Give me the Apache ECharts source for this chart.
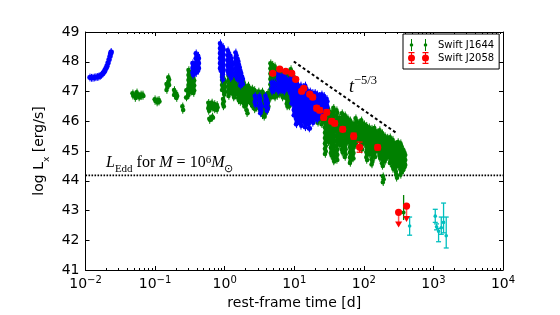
<!DOCTYPE html>
<html><head><meta charset="utf-8">
<script src="https://cdn.jsdelivr.net/npm/echarts@6/dist/echarts.min.js"></script>
<style>html,body{margin:0;padding:0;background:#fff}#c{width:560px;height:315px}</style>
</head><body><div id="c"></div>
<script>
// ---------------- data ----------------
const xTickValues = [0.01, 0.1, 1, 10, 100, 1000, 10000];
const xTickExponents = ['\u22122', '\u22121', '0', '1', '2', '3', '4'];
const yTickValues = [41, 42, 43, 44, 45, 46, 47, 48, 49];

// Swift J1644 (green): vertical streaks of points, time [d], lowest and highest log L
const j1644T  = [0.048,0.052,0.055,0.059,0.063,0.067,0.100,0.107,0.114,0.148,0.157,0.190,0.205,0.250,0.283,0.285,0.306,0.335,0.360,
  0.590,0.610,0.660,0.670,0.720,0.780,0.930,0.960,1.00,1.15,1.25,1.35,1.42,1.58,1.68,1.75,1.85,1.95,2.05,2.10,2.20,2.35,2.50,
  2.70,2.90,3.10,3.30,3.50,3.70,3.95,4.20,4.60,4.90,5.30,5.70,6.20,6.80,7.30,7.90,8.50,9.00,9.60,10.4,11.0,12.5,22.0,25.0,
  28,31,34,37,41,45,49,54,59,64,70,77,85,93,102,110,120,131,143,156,170,185,190,202,220,240,262,285,296,312,340,370,388];
const j1644Lo = [46.86,46.78,46.90,46.80,46.84,46.85,46.68,46.63,46.66,47.05,47.22,46.88,46.78,46.38,46.80,47.04,46.88,47.00,46.95,
  46.35,46.04,46.45,46.12,46.40,46.38,47.05,46.50,46.90,46.85,47.00,46.80,46.90,46.70,46.65,46.80,46.60,46.50,46.55,46.27,46.70,46.60,46.50,
  46.40,46.45,46.50,46.35,46.20,46.15,46.30,46.40,46.80,46.90,46.80,46.85,46.90,46.80,46.85,46.50,46.50,46.60,46.80,46.85,46.30,46.20,45.95,45.90,
  44.90,45.30,44.85,44.65,44.70,45.20,44.95,44.80,45.30,44.60,44.75,45.20,45.40,45.05,45.30,44.70,44.90,44.55,44.80,45.00,44.75,44.50,43.95,44.65,44.80,44.60,44.40,44.30,44.10,44.50,44.20,44.35,44.45];
const j1644Hi = [46.94,46.88,46.97,46.86,46.90,46.90,46.74,46.70,46.72,47.25,47.48,47.05,46.92,46.50,46.80,47.04,47.72,47.65,47.45,
  46.62,46.08,46.63,46.16,46.58,46.55,47.72,46.75,47.40,47.70,47.55,47.45,47.30,47.80,47.60,47.30,47.38,47.20,47.10,46.37,47.20,47.05,47.10,
  47.05,46.95,47.00,46.90,47.00,46.90,46.85,46.95,47.95,47.90,47.85,47.70,47.70,47.60,47.65,47.60,47.55,47.75,47.60,47.40,46.90,46.60,46.30,46.40,
  46.50,46.42,46.30,46.45,46.37,46.12,46.27,46.20,46.10,46.03,45.92,46.10,45.95,46.03,45.90,45.85,45.80,45.75,45.77,45.62,45.70,45.60,44.15,45.50,45.45,45.46,45.38,45.22,44.20,45.30,45.26,45.05,44.95];
// Swift J1644 late point with error bar
const j1644LateT = [373];
const j1644LateL = [42.93];
const j1644LateLo = [42.68];
const j1644LateHi = [43.52];

// Swift J1644 (blue)
const blueT  = [0.0116,0.0122,0.0128,0.0134,0.0141,0.0148,0.0155,0.0162,0.0170,0.0177,0.0184,0.0190,0.0197,0.0204,0.0211,0.0218,0.0225,0.0230,0.0234,
  0.350,0.390,0.420,0.870,0.930,0.950,1.12,1.22,1.28,1.45,1.55,1.62,1.70,1.80,2.75,3.20,3.30,3.90,4.10,4.80,5.20,5.90,6.50,7.20,7.90,8.60,
  9.30,10.0,10.8,11.5,12.5,13.5,14.5,15.8,16.5,17.0,18.5,20.0,21.5,23.0,25.0,27.0,29.5];
const blueLo = [47.47,47.46,47.46,47.47,47.48,47.49,47.50,47.52,47.56,47.60,47.65,47.71,47.78,47.86,47.96,48.07,48.18,48.27,48.33,
  47.55,47.62,47.70,47.70,47.40,47.64,47.60,47.45,47.55,47.50,47.40,47.45,47.20,47.25,46.55,46.40,46.27,46.50,46.35,47.00,47.05,47.00,47.05,47.00,47.10,46.95,
  46.60,46.20,45.90,46.00,45.85,46.00,45.80,45.90,45.76,46.00,45.95,46.10,46.05,46.15,46.20,46.30,46.40];
const blueHi = [47.47,47.46,47.46,47.47,47.48,47.49,47.50,47.52,47.56,47.60,47.65,47.71,47.78,47.86,47.96,48.07,48.18,48.27,48.33,
  47.95,48.28,48.20,48.62,48.00,48.50,48.38,48.20,48.00,48.31,48.10,47.90,47.70,47.50,46.85,46.85,46.60,46.85,46.70,47.30,47.30,47.60,47.50,47.55,47.40,47.40,
  47.50,47.45,47.30,47.20,47.20,47.15,47.20,47.00,45.76,47.00,46.95,46.95,46.90,46.85,46.90,46.85,46.75];

// late cyan points
const cyanT  = [455, 1063, 1109, 1186, 1297, 1399, 1528];
const cyanL  = [42.48, 42.81, 42.45, 42.30, 42.42, 42.60, 42.15];
const cyanLo = [42.17, 42.60, 42.35, 41.95, 42.20, 42.25, 41.74];
const cyanHi = [42.78, 43.04, 42.55, 42.40, 42.78, 43.25, 42.78];

// Swift J2058 (red)
const j2058T   = [4.91, 6.19, 7.55, 9.2, 10.5, 12.8, 13.7, 16.7, 18.4, 21.0, 23.2, 26.5, 29.3, 34.5, 38.1, 49.7, 71.4, 87, 158];
const j2058L   = [47.61, 47.75, 47.68, 47.61, 47.41, 47.01, 47.11, 46.91, 46.81, 46.44, 46.37, 46.13, 46.30, 46.00, 45.93, 45.73, 45.50, 45.13, 45.12];
const j2058Err = [0.05, 0.05, 0.05, 0.06, 0.06, 0.06, 0.06, 0.06, 0.07, 0.08, 0.08, 0.08, 0.08, 0.08, 0.08, 0.08, 0.10, 0.17, 0.08];
// Swift J2058 upper limits
const j2058LimT  = [316, 411];
const j2058LimL  = [42.94, 43.15];
const j2058LimTo = [42.51, 42.70];

// t^-5/3 guide and Eddington luminosity
const powerT = [9.84, 296];
const powerL = [48.01, 45.60];
const lEdd = 44.18;

// ---------------- chart ----------------
const minorX = [];
for (let k = -2; k <= 3; k++) for (let m = 2; m <= 9; m++) minorX.push(parseFloat((m * Math.pow(10, k)).toPrecision(3)));

const GREEN = '#008000', BLUE = '#0000ff', RED = '#ff0000', CYAN = '#00bfbf';

// a streak of overlapping error-bar points between lo and hi
function streak(color, r) {
  return function (params, api) {
    const t = api.value(0), lo = api.value(1), hi = api.value(2);
    const a = api.coord([t, hi]), b = api.coord([t, lo]);
    const x = a[0], len = b[1] - a[1];
    const ch = [{ type: 'line', shape: { x1: x, y1: a[1] - r - 1.5, x2: x, y2: b[1] + r + 1.5 }, style: { stroke: color, lineWidth: 1 } }];
    const n = Math.max(1, Math.round(len / 2.6));
    for (let k = 0; k <= n; k++) {
      const y = a[1] + (len * k) / n;
      ch.push({ type: 'circle', shape: { cx: x + ((k % 2) ? 0.4 : -0.4), cy: y, r: r }, style: { fill: color } });
    }
    return { type: 'group', children: ch };
  };
}
function errPoint(color, cap, r) {
  return function (params, api) {
    const t = api.value(0), L = api.value(1), lo = api.value(2), hi = api.value(3);
    const c = api.coord([t, L]), a = api.coord([t, hi]), b = api.coord([t, lo]);
    const ch = [
      { type: 'line', shape: { x1: c[0], y1: a[1], x2: c[0], y2: b[1] }, style: { stroke: color, lineWidth: 1.3 } },
      { type: 'circle', shape: { cx: c[0], cy: c[1], r: r }, style: { fill: color } }
    ];
    if (cap > 0) {
      ch.push({ type: 'line', shape: { x1: c[0] - cap, y1: a[1], x2: c[0] + cap, y2: a[1] }, style: { stroke: color, lineWidth: 1.3 } });
      ch.push({ type: 'line', shape: { x1: c[0] - cap, y1: b[1], x2: c[0] + cap, y2: b[1] }, style: { stroke: color, lineWidth: 1.3 } });
    }
    return { type: 'group', children: ch };
  };
}
function upperLimit(color) {
  return function (params, api) {
    const t = api.value(0), L = api.value(1), to = api.value(2);
    const c = api.coord([t, L]), b = api.coord([t, to]);
    return { type: 'group', children: [
      { type: 'line', shape: { x1: c[0], y1: c[1], x2: c[0], y2: b[1] - 3 }, style: { stroke: '#ff5555', lineWidth: 1.5 } },
      { type: 'polygon', shape: { points: [[c[0] - 3.5, b[1] - 3.5], [c[0] + 3.5, b[1] - 3.5], [c[0], b[1] + 2.5]] }, style: { fill: color } },
      { type: 'circle', shape: { cx: c[0], cy: c[1], r: 3.6 }, style: { fill: color } }
    ] };
  };
}

const greenIcon = 'path://M3 0H4V12H3Z M1.7 6A1.8 1.8 0 1 1 5.3 6A1.8 1.8 0 1 1 1.7 6Z M17 0H18V12H17Z M15.7 6A1.8 1.8 0 1 1 19.3 6A1.8 1.8 0 1 1 15.7 6Z';
const redIcon = 'path://M0.5 0H6.5V1.2H4V10.8H6.5V12H0.5V10.8H3V1.2H0.5Z M0 6A3.5 3.5 0 1 1 7 6A3.5 3.5 0 1 1 0 6Z M14.5 0H20.5V1.2H18V10.8H20.5V12H14.5V10.8H17V1.2H14.5Z M14 6A3.5 3.5 0 1 1 21 6A3.5 3.5 0 1 1 14 6Z';

const axisLineStyle = { show: true, lineStyle: { color: '#000', width: 1 } };
const xBase = { type: 'log', logBase: 10, min: 0.01, max: 10000, gridIndex: 0, splitLine: { show: false } };
const yBase = { type: 'value', min: 41, max: 49, interval: 1, gridIndex: 0, splitLine: { show: false } };

const option = {
  animation: false,
  backgroundColor: '#fff',
  textStyle: { fontFamily: 'DejaVu Sans', color: '#000' },
  grid: { left: 85.5, top: 32, right: 57, bottom: 45, containLabel: false },
  legend: {
    data: [{ name: 'Swift J1644', icon: greenIcon }, { name: 'Swift J2058', icon: redIcon }],
    orient: 'vertical', left: 403, top: 34, itemWidth: 21, itemHeight: 12, itemGap: 1,
    padding: [5, 5, 5, 5], borderColor: '#000', borderWidth: 1, borderRadius: 0, backgroundColor: '#fff',
    selectedMode: false,
    textStyle: { fontSize: 10, color: '#000', fontFamily: 'DejaVu Sans', padding: [0, 0, 0, 4] }
  },
  xAxis: [
    Object.assign({}, xBase, {
      position: 'bottom', axisLine: axisLineStyle,
      axisTick: { show: true, inside: true, length: 4, customValues: xTickValues, lineStyle: { color: '#000' } },
      axisLabel: {
        show: true, margin: 5, customValues: xTickValues,
        formatter: function (v) { const i = Math.round(Math.log10(v)) + 2; return '{b|10}{s|' + xTickExponents[i] + '}'; },
        rich: {
          b: { fontSize: 14, fontFamily: 'DejaVu Sans', color: '#000', lineHeight: 16, verticalAlign: 'bottom', padding: [5, 0, 0, 0] },
          s: { fontSize: 10, fontFamily: 'DejaVu Sans', color: '#000', lineHeight: 11, verticalAlign: 'top' }
        }
      },
      name: 'rest-frame time [d]', nameLocation: 'middle', nameGap: 16,
      nameTextStyle: { fontSize: 14, color: '#000', fontFamily: 'DejaVu Sans' }
    }),
    Object.assign({}, xBase, {
      position: 'top', axisLine: axisLineStyle,
      axisTick: { show: true, inside: true, length: 4, customValues: xTickValues, lineStyle: { color: '#000' } },
      axisLabel: { show: false }
    }),
    Object.assign({}, xBase, {
      position: 'bottom', axisLine: { show: false },
      axisTick: { show: true, inside: true, length: 2, customValues: minorX, lineStyle: { color: '#000' } },
      axisLabel: { show: false }
    }),
    Object.assign({}, xBase, {
      position: 'top', axisLine: { show: false },
      axisTick: { show: true, inside: true, length: 2, customValues: minorX, lineStyle: { color: '#000' } },
      axisLabel: { show: false }
    })
  ],
  yAxis: [
    Object.assign({}, yBase, {
      position: 'left', axisLine: axisLineStyle,
      axisTick: { show: true, inside: true, length: 4, lineStyle: { color: '#000' } },
      axisLabel: { show: true, margin: 6, fontSize: 14, color: '#000', fontFamily: 'DejaVu Sans' },
      name: '{n|log L}{sub|x}{n| [erg/s]}', nameLocation: 'middle', nameGap: 18, nameRotate: 90,
      nameTextStyle: {
        rich: {
          n: { fontSize: 14, color: '#000', fontFamily: 'DejaVu Sans', lineHeight: 18, verticalAlign: 'top' },
          sub: { fontSize: 9, color: '#000', fontFamily: 'DejaVu Sans', lineHeight: 18, verticalAlign: 'bottom', padding: [0, 0, 0, 0] }
        }
      }
    }),
    Object.assign({}, yBase, {
      position: 'right', axisLine: axisLineStyle,
      axisTick: { show: true, inside: true, length: 4, lineStyle: { color: '#000' } },
      axisLabel: { show: false }
    })
  ],
  series: [
    {
      name: 'L_Edd', type: 'line', xAxisIndex: 0, yAxisIndex: 0, showSymbol: false, silent: true,
      data: [[xTickValues[0], lEdd], [xTickValues[xTickValues.length - 1], lEdd]],
      lineStyle: { color: '#000', width: 1.6, type: [1.6, 1.4] }, z: 1
    },
    {
      name: 'Swift J1644', type: 'custom', xAxisIndex: 0, yAxisIndex: 0, itemStyle: { color: GREEN },
      renderItem: streak(GREEN, 2.3), encode: { x: 0, y: [1, 2] },
      data: j1644T.map(function (t, i) { return [t, j1644Lo[i], j1644Hi[i]]; }), z: 2
    },
    {
      name: 'Swift J1644', type: 'custom', xAxisIndex: 0, yAxisIndex: 0, itemStyle: { color: GREEN },
      renderItem: errPoint(GREEN, 0, 2), encode: { x: 0, y: [1, 2, 3] },
      data: j1644LateT.map(function (t, i) { return [t, j1644LateL[i], j1644LateLo[i], j1644LateHi[i]]; }), z: 2
    },
    {
      name: 'Swift J1644 (blue)', type: 'custom', xAxisIndex: 0, yAxisIndex: 0, itemStyle: { color: BLUE },
      renderItem: streak(BLUE, 2.4), encode: { x: 0, y: [1, 2] },
      data: blueT.map(function (t, i) { return [t, blueLo[i], blueHi[i]]; }), z: 3
    },
    {
      name: 'Swift J1644 (late)', type: 'custom', xAxisIndex: 0, yAxisIndex: 0, itemStyle: { color: CYAN },
      renderItem: errPoint(CYAN, 2.5, 1.8), encode: { x: 0, y: [1, 2, 3] },
      data: cyanT.map(function (t, i) { return [t, cyanL[i], cyanLo[i], cyanHi[i]]; }), z: 3
    },
    {
      name: 'Swift J2058', type: 'custom', xAxisIndex: 0, yAxisIndex: 0, itemStyle: { color: RED },
      renderItem: errPoint(RED, 3, 3.6), encode: { x: 0, y: [1, 2, 3] },
      data: j2058T.map(function (t, i) { return [t, j2058L[i], j2058L[i] - j2058Err[i], j2058L[i] + j2058Err[i]]; }), z: 4
    },
    {
      name: 'Swift J2058', type: 'custom', xAxisIndex: 0, yAxisIndex: 0, itemStyle: { color: RED },
      renderItem: upperLimit(RED), encode: { x: 0, y: [1, 2] },
      data: j2058LimT.map(function (t, i) { return [t, j2058LimL[i], j2058LimTo[i]]; }), z: 4
    },
    {
      name: 't^-5/3', type: 'line', xAxisIndex: 0, yAxisIndex: 0, showSymbol: false, silent: true,
      data: powerT.map(function (t, i) { return [t, powerL[i]]; }),
      lineStyle: { color: '#000', width: 2, type: [3, 2.5] }, z: 5
    }
  ],
  graphic: [
    {
      type: 'text', left: 106, top: 155, z: 10,
      style: {
        text: '{i|L}{sb|Edd}{r| for }{i|M}{r| = 10}{sp|6}{i|M}{sb|\u2299}',
        rich: {
          i: { fontFamily: 'Liberation Serif', fontStyle: 'italic', fontSize: 16, lineHeight: 20, fill: '#000', verticalAlign: 'top' },
          r: { fontFamily: 'Liberation Serif', fontSize: 16, lineHeight: 20, fill: '#000', verticalAlign: 'top' },
          sb: { fontFamily: 'Liberation Serif', fontSize: 11, lineHeight: 12, fill: '#000', verticalAlign: 'bottom' },
          sp: { fontFamily: 'Liberation Serif', fontSize: 11, lineHeight: 12, fill: '#000', verticalAlign: 'top' }
        }
      }
    },
    {
      type: 'text', left: 349, top: 74, z: 10,
      style: {
        text: '{i|t}{sp|\u22125/3}',
        rich: {
          i: { fontFamily: 'Liberation Serif', fontStyle: 'italic', fontSize: 18, lineHeight: 22, fill: '#000', verticalAlign: 'bottom' },
          sp: { fontFamily: 'Liberation Serif', fontSize: 12.5, lineHeight: 13, fill: '#000', verticalAlign: 'top' }
        }
      }
    }
  ]
};
const chart = echarts.init(document.getElementById('c'), null, { renderer: 'canvas' });
chart.setOption(option);
</script>
</body></html>
